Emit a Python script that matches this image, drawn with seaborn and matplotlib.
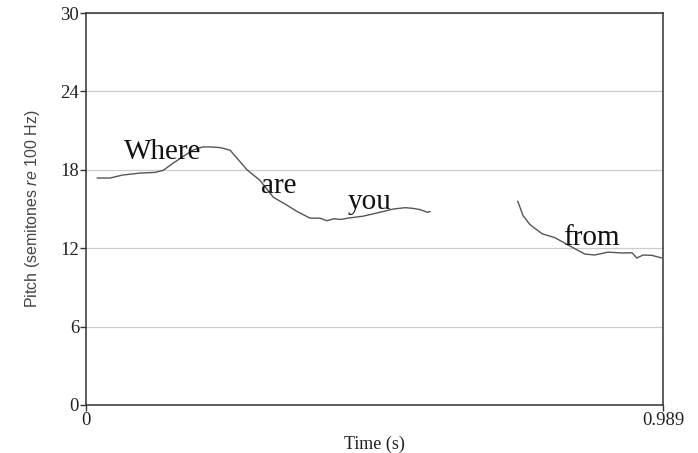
import matplotlib
matplotlib.use("Agg")
from matplotlib import pyplot as plt
import seaborn as sns
import pandas as pd

# pitch track (time in s, pitch in semitones re 100 Hz)
time_1 = [0.019, 0.041, 0.063, 0.093, 0.118, 0.132, 0.149, 0.166, 0.183, 0.200,
          0.212, 0.230, 0.247, 0.276, 0.298, 0.321, 0.344, 0.362, 0.384, 0.401,
          0.413, 0.425, 0.437, 0.449, 0.475, 0.504, 0.527, 0.547, 0.560, 0.573,
          0.585, 0.590]
pitch_1 = [17.37, 17.37, 17.6, 17.75, 17.8, 17.95, 18.5, 19.0, 19.5, 19.75,
           19.75, 19.7, 19.5, 18.0, 17.2, 15.9, 15.3, 14.8, 14.3, 14.3,
           14.1, 14.25, 14.2, 14.3, 14.45, 14.75, 15.0, 15.1, 15.05, 14.95,
           14.75, 14.8]
time_2 = [0.740, 0.749, 0.761, 0.782, 0.804, 0.826, 0.842, 0.855, 0.872, 0.895,
          0.919, 0.936, 0.944, 0.955, 0.970, 0.987]
pitch_2 = [15.6, 14.5, 13.8, 13.1, 12.8, 12.25, 11.86, 11.55, 11.48, 11.7,
           11.63, 11.65, 11.25, 11.48, 11.45, 11.25]

words = ["Where", "are", "you", "from"]
word_t = [0.132, 0.331, 0.486, 0.866]
word_y = [19.35, 16.75, 15.55, 12.75]

df = pd.DataFrame({
    "time": time_1 + time_2,
    "pitch": pitch_1 + pitch_2,
    "segment": [1] * len(time_1) + [2] * len(time_2),
})

sns.set_style("white")
plt.rcParams["mathtext.fontset"] = "custom"
plt.rcParams["mathtext.it"] = "Liberation Sans:italic"
plt.rcParams["mathtext.rm"] = "Liberation Sans"
serif = ["Liberation Serif", "DejaVu Serif"]

fig = plt.figure(figsize=(6.98, 4.53), dpi=100)
ax = fig.add_axes([0.1232, 0.106, 0.8267, 0.8653])

sns.lineplot(data=df, x="time", y="pitch", units="segment", estimator=None,
             sort=False, color="#555555", linewidth=1.0, ax=ax)

for w, t, y in zip(words, word_t, word_y):
    ax.text(t, y, w, fontsize=21, family=serif, ha="center", va="center", color="#111111")

ax.set_xlim(0, 0.989)
ax.set_ylim(0, 30)
ax.set_xticks([0, 0.989])
ax.set_xticklabels(["0", "0.989"])
ax.set_yticks([0, 6, 12, 18, 24, 30])
ax.yaxis.grid(True, color="#cccccc", linewidth=0.9)
ax.set_axisbelow(True)

for lab in ax.get_xticklabels() + ax.get_yticklabels():
    lab.set_family(serif)
    lab.set_fontsize(13.5)
    lab.set_color("#222222")
ax.tick_params(axis="both", direction="out", length=4, width=1, color="#333333",
               left=True, bottom=True, pad=1)

for s in ax.spines.values():
    s.set_color("#333333")
    s.set_linewidth(1.1)

ax.set_xlabel("Time (s)", family=serif, fontsize=13, color="#222222", labelpad=5)
ax.set_ylabel("Pitch (semitones $re$ 100 Hz)", family=["Liberation Sans", "DejaVu Sans"],
              fontsize=11.5, color="#444444", labelpad=13)

plt.savefig("out.png", dpi=100)
plt.close(fig)
